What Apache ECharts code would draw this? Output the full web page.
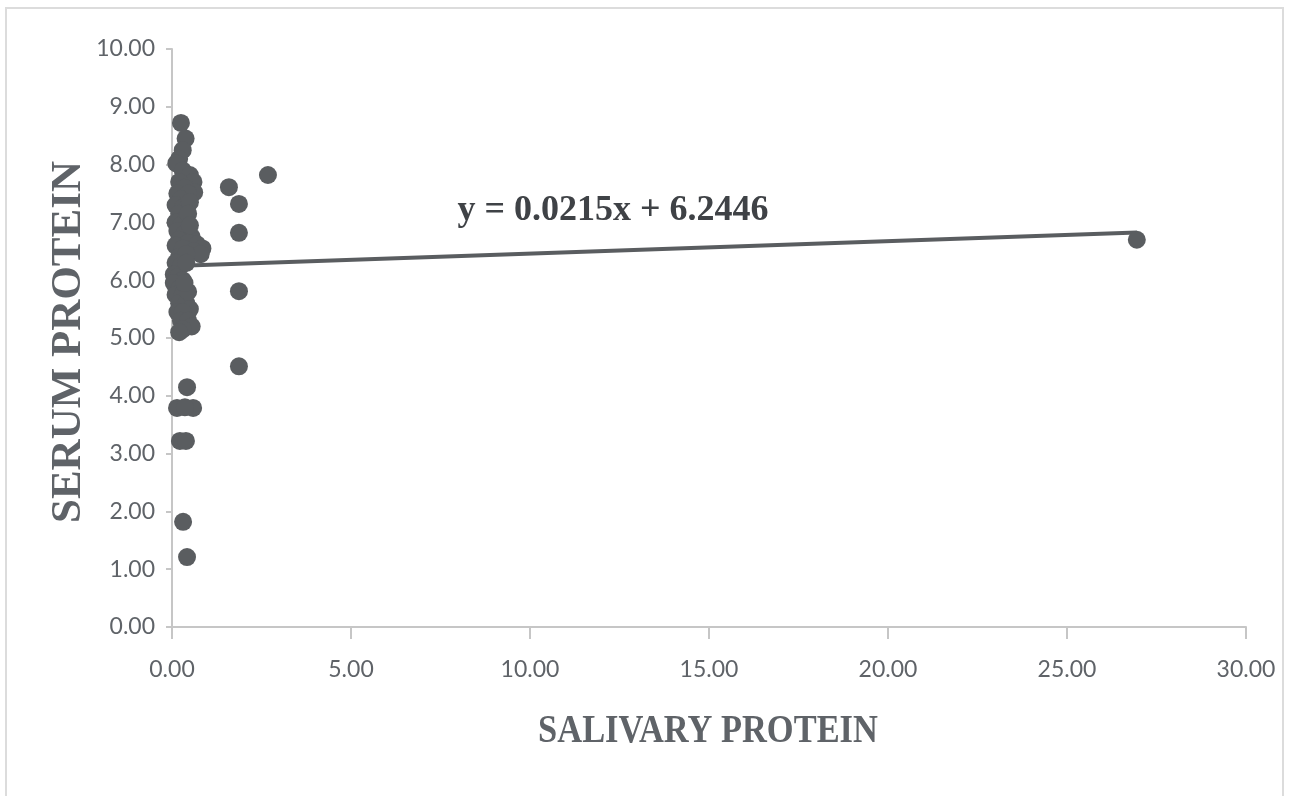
<!DOCTYPE html>
<html>
<head>
<meta charset="utf-8">
<title>Serum vs Salivary Protein</title>
<script src="https://cdn.jsdelivr.net/npm/echarts@6/dist/echarts.min.js"></script>
<style>
  html, body { margin: 0; padding: 0; background: #ffffff; }
  #chart { width: 1290px; height: 796px; }
</style>
</head>
<body>
<div id="chart"></div>
<script>
// Paired observations: salivary protein (x) and serum protein (y)
const salivary = [
  0.25, 0.38, 0.30, 0.20, 0.12,
  0.30, 0.50, 0.60, 0.62, 0.20, 0.35, 0.15, 0.45, 0.25, 0.10, 0.30, 0.20, 0.35,
  0.10, 0.25, 0.15, 0.35, 0.55, 0.20, 0.45, 0.70, 0.85, 0.10, 0.30, 0.60, 0.80,
  0.20, 0.40, 0.10, 0.25, 0.05, 0.15, 0.30, 0.05, 0.20, 0.10, 0.30, 0.20, 0.40,
  0.15, 0.50, 0.30, 0.25, 0.45, 0.55, 0.30, 0.20,
  0.50, 0.45, 0.50, 0.40, 0.45, 0.35,
  0.42, 0.14, 0.59, 0.36, 0.22, 0.39, 0.31, 0.42,
  1.59, 2.68, 1.87, 1.87, 1.87, 1.87, 26.95
];
const serum = [
  8.72, 8.45, 8.25, 8.10, 8.02,
  7.90, 7.82, 7.70, 7.52, 7.70, 7.60, 7.50, 7.50, 7.40, 7.30, 7.25, 7.15, 7.05,
  7.00, 6.95, 6.85, 6.80, 6.75, 6.70, 6.65, 6.62, 6.55, 6.60, 6.55, 6.50, 6.45,
  6.40, 6.45, 6.30, 6.25, 6.10, 6.05, 6.00, 5.95, 5.85, 5.75, 5.75, 5.60, 5.60,
  5.45, 5.50, 5.45, 5.30, 5.30, 5.20, 5.15, 5.10,
  7.35, 7.15, 6.95, 6.30, 5.80, 5.95,
  4.15, 3.79, 3.79, 3.80, 3.22, 3.22, 1.82, 1.21,
  7.61, 7.82, 7.32, 6.82, 5.81, 4.51, 6.70
];

// Linear trendline coefficients (as printed on the chart)
const slope = 0.0215;
const intercept = 6.2446;
const trendText = 'y = 0.0215x + 6.2446';

// Axis tick settings
const xTicks = { min: 0, max: 30, interval: 5 };
const yTicks = { min: 0, max: 10, interval: 1 };

const points = salivary.map((x, i) => [x, serum[i]]);
const xLo = Math.min(...salivary);
const xHi = Math.max(...salivary);
const trend = [[xLo, slope * xLo + intercept], [xHi, slope * xHi + intercept]];

const ink = '#5a5d60';
const labelColor = '#5f6368';
const axisGray = '#c6c6c6';

const chart = echarts.init(document.getElementById('chart'));
chart.setOption({
  backgroundColor: '#ffffff',
  animation: false,
  grid: { left: 172, right: 44, top: 49, bottom: 169, containLabel: false },
  xAxis: {
    type: 'value',
    min: xTicks.min, max: xTicks.max, interval: xTicks.interval,
    axisLine: { show: true, onZero: false, lineStyle: { color: axisGray, width: 2 } },
    axisTick: { show: true, length: 12, lineStyle: { color: axisGray, width: 2 } },
    splitLine: { show: false },
    axisLabel: {
      margin: 31, color: labelColor, fontFamily: 'Lato', fontSize: 23,
      formatter: v => v.toFixed(2)
    }
  },
  yAxis: {
    type: 'value',
    min: yTicks.min, max: yTicks.max, interval: yTicks.interval,
    axisLine: { show: true, onZero: false, lineStyle: { color: axisGray, width: 2 } },
    axisTick: { show: true, length: 6, lineStyle: { color: axisGray, width: 2 } },
    splitLine: { show: false },
    axisLabel: {
      margin: 17, color: labelColor, fontFamily: 'Lato', fontSize: 23,
      formatter: v => v.toFixed(2)
    }
  },
  series: [
    {
      type: 'line',
      data: trend,
      symbol: 'none',
      lineStyle: { color: ink, width: 4 },
      z: 3
    },
    {
      type: 'scatter',
      data: points,
      symbol: 'circle',
      symbolSize: 18,
      itemStyle: { color: ink, opacity: 1 },
      z: 4
    }
  ],
  graphic: [
    {
      type: 'rect',
      shape: { x: 6, y: 8, width: 1277, height: 800 },
      style: { fill: 'none', stroke: '#dcdcdc', lineWidth: 2 },
      silent: true, z: -1
    },
    {
      type: 'text',
      x: 613, y: 211,
      style: {
        text: trendText,
        fill: '#3f4246',
        font: 'bold 36px "Liberation Serif", "DejaVu Serif", serif',
        align: 'center', verticalAlign: 'middle'
      },
      z: 10
    },
    {
      type: 'text',
      x: 708, y: 731,
      scaleX: 0.84,
      style: {
        text: 'SALIVARY PROTEIN',
        fill: labelColor,
        font: 'bold 41px "Liberation Serif", "DejaVu Serif", serif',
        align: 'center', verticalAlign: 'middle'
      },
      z: 10
    },
    {
      type: 'text',
      x: 69, y: 342,
      rotation: Math.PI / 2,
      style: {
        text: 'SERUM PROTEIN',
        fill: labelColor,
        font: 'bold 43px "Liberation Serif", "DejaVu Serif", serif',
        align: 'center', verticalAlign: 'middle'
      },
      z: 10
    }
  ]
});
</script>
</body>
</html>
